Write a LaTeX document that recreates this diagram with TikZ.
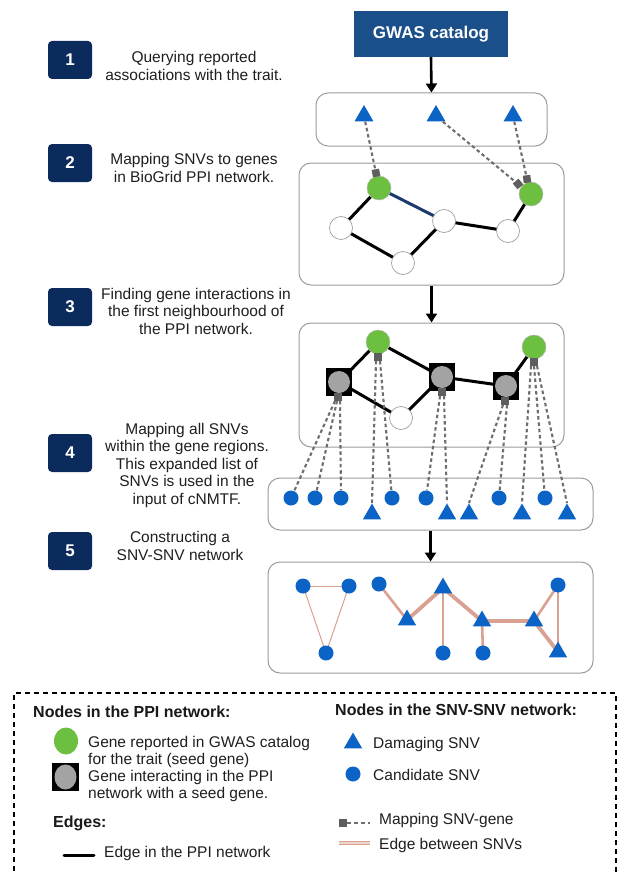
\documentclass[tikz,border=0pt]{standalone}
\usepackage{fontspec}
\setmainfont{Liberation Sans}
\usetikzlibrary{arrows.meta,shapes.geometric}
\definecolor{navy}{HTML}{0B2B5C}
\definecolor{gwas}{HTML}{1B4F8A}
\definecolor{snvblue}{HTML}{0B63C5}
\definecolor{seedgreen}{HTML}{6DBF3F}
\definecolor{genegray}{HTML}{A3A3A3}
\definecolor{mapgray}{HTML}{5E5E5E}
\definecolor{mapdash}{HTML}{6E6E6E}
\definecolor{pinkedge}{HTML}{D9A191}
\definecolor{boxgray}{HTML}{9C9C9C}
\definecolor{darkblueedge}{HTML}{1A3A6E}
\begin{document}
\begin{tikzpicture}[x=1pt,y=-1pt,
  stepnum/.style={fill=navy, rounded corners=4pt, minimum width=44pt, minimum height=38pt,
    text=white, font=\fontsize{17}{17}\selectfont\bfseries, inner sep=0pt},
  steptext/.style={align=center, font=\fontsize{15.5}{17.5}\selectfont, text=black!88, inner sep=0pt},
  stagebox/.style={draw=boxgray, line width=1pt, rounded corners=12pt, inner sep=0pt},
  flow/.style={line width=2.6pt, -{Triangle[length=9pt,width=11pt]}},
  seed/.style={circle, fill=seedgreen, draw=gray!55, line width=0.5pt, minimum size=24pt, inner sep=0pt},
  plain/.style={circle, fill=white, draw=gray!75, line width=0.7pt, minimum size=23pt, inner sep=0pt},
  partner/.style={rectangle, fill=black, minimum width=26pt, minimum height=28pt, inner sep=0pt,
    path picture={\fill[genegray] (path picture bounding box.center) circle (11pt);}},
  ppi/.style={line width=3pt, black},
  mapsq/.style={rectangle, fill=mapgray, minimum size=7.5pt, inner sep=0pt},
  mapline/.style={draw=mapdash, line width=2.1pt, dash pattern=on 3.5pt off 2.8pt},
  dmg/.style={regular polygon, regular polygon sides=3, fill=snvblue, minimum size=22pt, inner sep=0pt},
  dmgs/.style={regular polygon, regular polygon sides=3, fill=snvblue, minimum size=21pt, inner sep=0pt},
  cand/.style={circle, fill=snvblue, minimum size=15pt, inner sep=0pt},
  snvedge/.style={draw=pinkedge, line width=3.8pt},
  snvedgem/.style={draw=pinkedge, line width=2.6pt},
  snvedget/.style={draw=pinkedge, line width=1pt},
  legtext/.style={anchor=west, align=left, font=\fontsize{15.5}{17}\selectfont, text=black!88, inner sep=0pt},
  leghead/.style={anchor=west, font=\fontsize{16}{17}\selectfont\bfseries, text=black!90, inner sep=0pt}
]
\useasboundingbox (0,0) rectangle (618,872);
\fill[white] (0,0) rectangle (618,872);

% ---------- steps ----------
\node[stepnum] (s1) at (70,60) {1};
\node[stepnum] (s2) at (70,163) {2};
\node[stepnum] (s3) at (70,307) {3};
\node[stepnum] (s4) at (70,453) {4};
\node[stepnum] (s5) at (70,551) {5};
\node[steptext] (s1t) at (194,66) {Querying reported\\associations with the trait.};
\node[steptext] (s2t) at (194,168) {Mapping SNVs to genes\\in BioGrid PPI network.};
\node[steptext] (s3t) at (196,311) {Finding gene interactions in\\the first neighbourhood of\\the PPI network.};
\node[steptext] (s4t) at (187,465) {Mapping all SNVs\\within the gene regions.\\This expanded list of\\SNVs is used in the\\input of cNMTF.};
\node[steptext] (s5t) at (180,546) {Constructing a\\SNV-SNV network};

% ---------- GWAS and stage boxes ----------
\node[fill=gwas, minimum width=154pt, minimum height=46pt, text=white,
      font=\fontsize{17}{17}\selectfont\bfseries, inner sep=0pt] (gwas) at (431,34) {GWAS catalog};
\node[stagebox, minimum width=231pt, minimum height=53pt] (b1) at (431.5,119.5) {};
\node[stagebox, minimum width=265pt, minimum height=122pt] (b2) at (431.5,224) {};
\node[stagebox, minimum width=265pt, minimum height=124pt] (b3) at (431.5,385) {};
\node[stagebox, minimum width=325pt, minimum height=52pt] (b4) at (430.5,504) {};
\node[stagebox, minimum width=325pt, minimum height=111pt] (b5) at (430.5,617.5) {};

\draw[flow] (gwas.south) -- (b1.north);
\draw[flow] (b2.south) -- (b3.north);
\draw[flow] (b4.south) -- (b5.north);

% ---------- stage 1 / 2 ----------
\node[dmg] (t1) at (364,116) {};
\node[dmg] (t2) at (436,116) {};
\node[dmg] (t3) at (513,116) {};

\coordinate (g1c) at (379,188);
\coordinate (g2c) at (531,194);
\coordinate (w1c) at (341,228);
\coordinate (w2c) at (444,221);
\coordinate (w3c) at (403,263);
\coordinate (w4c) at (508,231);
\draw[ppi] (g1c) -- (w1c);
\draw[line width=3pt, darkblueedge] (g1c) -- (w2c);
\draw[ppi] (w1c) -- (w3c);
\draw[ppi] (w3c) -- (w2c);
\draw[ppi] (w2c) -- (w4c);
\draw[ppi] (w4c) -- (g2c);
\node[seed] (g1) at (g1c) {};
\node[seed] (g2) at (g2c) {};
\node[plain] (w1) at (w1c) {};
\node[plain] (w2) at (w2c) {};
\node[plain] (w3) at (w3c) {};
\node[plain] (w4) at (w4c) {};

\node[mapsq, rotate=10] (m1) at (376,173) {};
\node[mapsq, rotate=40] (m2) at (518,184) {};
\node[mapsq, rotate=8] (m3) at (527,179) {};
\draw[mapline] (t1) -- (m1);
\draw[mapline] (t2) -- (m2);
\draw[mapline] (t3) -- (m3);

% ---------- stage 3 ----------
\coordinate (g3c) at (378,342);
\coordinate (g4c) at (534,347);
\coordinate (p1c) at (339,382);
\coordinate (p2c) at (442,377);
\coordinate (p3c) at (506,386);
\coordinate (w5c) at (401,418);
\draw[ppi] (g3c) -- (p1c);
\draw[ppi] (g3c) -- (p2c);
\draw[ppi] (p1c) -- (w5c);
\draw[ppi] (w5c) -- (p2c);
\draw[ppi] (p2c) -- (p3c);
\draw[ppi] (p3c) -- (g4c);
\node[seed] (g3) at (g3c) {};
\node[seed] (g4) at (g4c) {};
\node[partner] (p1) at (p1c) {};
\node[partner] (p2) at (p2c) {};
\node[partner] (p3) at (p3c) {};
\node[plain] (w5) at (w5c) {};

\node[mapsq] (q1) at (338,397) {};
\node[mapsq] (q2) at (378,357) {};
\node[mapsq] (q3) at (442,392) {};
\node[mapsq] (q4) at (505,401) {};
\node[mapsq] (q5) at (534,362) {};

% ---------- stage 4 ----------
\node[cand] (c1) at (291,498) {};
\node[cand] (c2) at (315,498) {};
\node[cand] (c3) at (341,498) {};
\node[cand] (c4) at (392,498) {};
\node[cand] (c5) at (426,498) {};
\node[cand] (c6) at (499,498) {};
\node[cand] (c7) at (545,498) {};
\node[dmgs] (d1) at (372,514) {};
\node[dmgs] (d2) at (447,514) {};
\node[dmgs] (d3) at (469,514) {};
\node[dmgs] (d4) at (522,514) {};
\node[dmgs] (d5) at (567,514) {};

\draw[mapline] ([xshift=-3pt]q1.south) -- (c1);
\draw[mapline] ([xshift=-1pt]q1.south) -- (c2);
\draw[mapline] ([xshift=2pt]q1.south) -- (c3);
\draw[mapline] ([xshift=-2pt]q2.south) -- (d1.north);
\draw[mapline] ([xshift=2pt]q2.south) -- (c4);
\draw[mapline] ([xshift=-2pt]q3.south) -- (c5);
\draw[mapline] ([xshift=2pt]q3.south) -- (d2.north);
\draw[mapline] ([xshift=-2pt]q4.south) -- (d3.north);
\draw[mapline] ([xshift=2pt]q4.south) -- (c6);
\draw[mapline] ([xshift=-3pt]q5.south) -- (d4.north);
\draw[mapline] ([xshift=0pt]q5.south) -- (c7);
\draw[mapline] ([xshift=3pt]q5.south) -- (d5.north);

% ---------- stage 5 ----------
\coordinate (e1c) at (303,586);
\coordinate (e2c) at (349,586);
\coordinate (e3c) at (326,653);
\coordinate (e4c) at (379,584);
\coordinate (e5c) at (407,620);
\coordinate (e6c) at (443,588);
\coordinate (e7c) at (443,653);
\coordinate (e8c) at (482,621);
\coordinate (e9c) at (483,653);
\coordinate (e10c) at (534,621);
\coordinate (e11c) at (558,585);
\coordinate (e12c) at (558,652);
\draw[snvedget] (e1c) -- (e2c);
\draw[snvedget] (e2c) -- (e3c);
\draw[snvedget] (e3c) -- (e1c);
\draw[snvedgem] (e4c) -- (e5c);
\draw[snvedge] (e5c) -- (e6c);
\draw[snvedgem] (e6c) -- (e7c);
\draw[snvedge] (e6c) -- (e8c);
\draw[snvedgem] (e8c) -- (e9c);
\draw[snvedge] (e8c) -- (e10c);
\draw[snvedgem] (e10c) -- (e11c);
\draw[snvedge] (e10c) -- (e12c);
\draw[snvedgem] (e11c) -- (e12c);
\node[cand] (e1) at (e1c) {};
\node[cand] (e2) at (e2c) {};
\node[cand] (e3) at (e3c) {};
\node[cand] (e4) at (e4c) {};
\node[dmgs] (e5) at (e5c) {};
\node[dmgs] (e6) at (e6c) {};
\node[cand] (e7) at (e7c) {};
\node[dmgs] (e8) at (e8c) {};
\node[cand] (e9) at (e9c) {};
\node[dmgs] (e10) at (e10c) {};
\node[cand] (e11) at (e11c) {};
\node[dmgs] (e12) at (e12c) {};

% ---------- legend ----------
\draw[line width=1.8pt, dash pattern=on 5pt off 4pt] (14,880) -- (14,693) -- (616,693) -- (616,880);
\node[leghead] (lh1) at (33,712) {Nodes in the PPI network:};
\node[leghead] (lh2) at (335,710) {Nodes in the SNV-SNV network:};
\node[ellipse, fill=seedgreen, minimum width=24pt, minimum height=27pt, inner sep=0pt] (lg1) at (66,741) {};
\node[legtext] (lt1) at (88,751.5) {Gene reported in GWAS catalog\\for the trait (seed gene)};
\node[rectangle, fill=black, minimum width=27pt, minimum height=28pt, inner sep=0pt,
      path picture={\fill[genegray] (path picture bounding box.center) ellipse (11pt and 12.5pt);}] (lg2) at (65.5,777) {};
\node[legtext] (lt2) at (88,785.5) {Gene interacting in the PPI\\network with a seed gene.};
\node[leghead] (lh3) at (53,823) {Edges:};
\coordinate (le1) at (64,855);
\coordinate (le2) at (94,855);
\draw[line width=3pt, line cap=round] (le1) -- (le2);
\node[legtext] (lt3) at (104,853) {Edge in the PPI network};

\node[dmgs] (lg3) at (353,743) {};
\node[legtext] (lt4) at (373,744) {Damaging SNV};
\node[cand] (lg4) at (353,774) {};
\node[legtext] (lt5) at (373,775) {Candidate SNV};
\node[mapsq] (lg5) at (343,823) {};
\coordinate (lm2) at (370,823);
\draw[mapline, dash pattern=on 4pt off 3pt] (lg5.east) -- (lm2);
\node[legtext] (lt6) at (379,820) {Mapping SNV-gene};
\coordinate (lp1) at (339,843);
\coordinate (lp2) at (370,843);
\draw[draw=pinkedge, line width=1.5pt, double=pinkedge!45, double distance=1.2pt] (lp1) -- (lp2);
\node[legtext] (lt7) at (379,845) {Edge between SNVs};
\end{tikzpicture}
\end{document}
